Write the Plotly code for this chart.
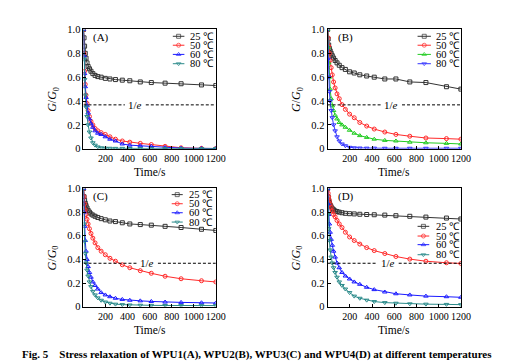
import plotly.graph_objects as go
import math

# ---------------- data ----------------
time_s = [0, 5, 10, 16, 23, 32, 42, 54, 68, 85, 105, 130, 160, 198, 240, 290,
          352, 420, 515, 615, 740, 885, 1070, 1200]

temps = ["25 ℃", "50 ℃", "60 ℃", "80 ℃"]

# WPU1 (A)
A_25 = [1.0, 0.93, 0.86, 0.8, 0.76, 0.72, 0.69, 0.67, 0.65, 0.63, 0.615, 0.605, 0.6, 0.59,
        0.585, 0.58, 0.575, 0.57, 0.56, 0.555, 0.55, 0.545, 0.535, 0.53]
A_50 = [1.0, 0.8, 0.65, 0.54, 0.45, 0.38, 0.32, 0.27, 0.23, 0.2, 0.17, 0.15, 0.135, 0.12,
        0.1, 0.08, 0.065, 0.055, 0.045, 0.035, 0.02, 0.008, 0.003, 0.002]
A_60 = [1.0, 0.78, 0.63, 0.52, 0.43, 0.36, 0.3, 0.25, 0.21, 0.18, 0.15, 0.13, 0.12, 0.1,
        0.08, 0.065, 0.04, 0.03, 0.025, 0.02, 0.01, 0.005, 0.003, 0.002]
A_80 = [1.0, 0.75, 0.58, 0.45, 0.35, 0.27, 0.2, 0.14, 0.09, 0.05, 0.03, 0.015, 0.008, 0.005,
        0.004, 0.003, 0.003, 0.002, 0.002, 0.002, 0.002, 0.002, 0.002, 0.002]

# WPU2 (B)
B_25 = [1.0, 0.92, 0.87, 0.84, 0.82, 0.8, 0.78, 0.76, 0.74, 0.72, 0.7, 0.68, 0.665, 0.645,
        0.635, 0.62, 0.61, 0.6, 0.585, 0.585, 0.56, 0.555, 0.52, 0.5]
B_50 = [1.0, 0.93, 0.86, 0.8, 0.74, 0.68, 0.62, 0.56, 0.51, 0.46, 0.42, 0.37, 0.33, 0.29,
        0.26, 0.22, 0.19, 0.165, 0.14, 0.12, 0.105, 0.09, 0.085, 0.08]
B_60 = [1.0, 0.85, 0.72, 0.6, 0.5, 0.42, 0.36, 0.32, 0.28, 0.25, 0.22, 0.2, 0.18, 0.155,
        0.13, 0.11, 0.095, 0.08, 0.07, 0.065, 0.055, 0.05, 0.045, 0.04]
B_80 = [1.0, 0.75, 0.6, 0.48, 0.4, 0.32, 0.26, 0.2, 0.15, 0.1, 0.065, 0.04, 0.025, 0.012,
        0.008, 0.006, 0.005, 0.005, 0.004, 0.004, 0.004, 0.004, 0.004, 0.004]

# WPU3 (C)
C_25 = [1.0, 0.93, 0.9, 0.875, 0.855, 0.835, 0.815, 0.8, 0.785, 0.775, 0.765, 0.755, 0.745,
        0.735, 0.725, 0.72, 0.71, 0.7, 0.695, 0.69, 0.68, 0.67, 0.655, 0.645]
C_50 = [1.0, 0.93, 0.87, 0.82, 0.78, 0.74, 0.7, 0.66, 0.62, 0.58, 0.54, 0.5, 0.47, 0.44,
        0.41, 0.385, 0.355, 0.33, 0.305, 0.283, 0.258, 0.237, 0.22, 0.21]
C_60 = [1.0, 0.8, 0.68, 0.56, 0.47, 0.4, 0.34, 0.29, 0.25, 0.21, 0.18, 0.15, 0.12, 0.1,
        0.085, 0.072, 0.062, 0.055, 0.05, 0.045, 0.04, 0.037, 0.034, 0.032]
C_80 = [1.0, 0.7, 0.55, 0.45, 0.37, 0.31, 0.26, 0.21, 0.17, 0.13, 0.1, 0.075, 0.055, 0.04,
        0.03, 0.022, 0.018, 0.015, 0.013, 0.012, 0.011, 0.01, 0.01, 0.01]

# WPU4 (D)
D_25 = [1.0, 0.93, 0.9, 0.88, 0.86, 0.845, 0.83, 0.82, 0.81, 0.805, 0.8, 0.795, 0.79, 0.787,
        0.785, 0.782, 0.78, 0.778, 0.775, 0.77, 0.765, 0.758, 0.75, 0.742]
D_50 = [1.0, 0.96, 0.93, 0.9, 0.87, 0.84, 0.81, 0.78, 0.76, 0.73, 0.7, 0.67, 0.63, 0.59,
        0.56, 0.53, 0.5, 0.475, 0.45, 0.425, 0.403, 0.385, 0.372, 0.366]
D_60 = [1.0, 0.87, 0.78, 0.7, 0.63, 0.57, 0.52, 0.47, 0.42, 0.37, 0.33, 0.29, 0.26, 0.235,
        0.21, 0.19, 0.165, 0.145, 0.125, 0.11, 0.1, 0.09, 0.085, 0.08]
D_80 = [1.0, 0.78, 0.66, 0.56, 0.48, 0.42, 0.37, 0.33, 0.29, 0.25, 0.21, 0.18, 0.15, 0.12,
        0.09, 0.072, 0.056, 0.044, 0.035, 0.03, 0.025, 0.022, 0.02, 0.018]

panel_labels = ["(A)", "(B)", "(C)", "(D)"]
panel_series = [[A_25, A_50, A_60, A_80], [B_25, B_50, B_60, B_80],
                [C_25, C_50, C_60, C_80], [D_25, D_50, D_60, D_80]]

x_ticks = [200, 400, 600, 800, 1000, 1200]
y_ticks = [0, 0.2, 0.4, 0.6, 0.8, 1.0]
y_ticktext = ["0", "0.2", "0.4", "0.6", "0.8", "1.0"]
inv_e = 1 / math.e

caption = "Fig. 5    Stress relaxation of WPU1(A), WPU2(B), WPU3(C) and WPU4(D) at different temperatures"

# ---------------- styles ----------------
W, H = 508, 361
FONT = "Liberation Serif, Times New Roman, serif"
symbols = ["square-open", "circle-open", "triangle-up-open", "triangle-down-open"]
panel_colors = [
    ["#333333", "#ff2a2a", "#1a1aff", "#2a8a8a"],
    ["#333333", "#ff2a2a", "#22cc22", "#3333ff"],
    ["#333333", "#ff2a2a", "#1a1aff", "#2a8a8a"],
    ["#333333", "#ff2a2a", "#1a1aff", "#2a8a8a"],
]
# plot boxes in pixels (left, right, top, bottom)
boxes = [(77, 212, 17, 140), (326, 462, 17, 140), (77, 212, 181, 303), (326, 462, 181, 303)]
# legend layout: (line start x, line end x, text x) as data x; row y's as data y
legend_pos = [
    (810, 915, 945, [0.943, 0.868, 0.791, 0.713]),
    (810, 930, 960, [0.943, 0.868, 0.791, 0.713]),
    (800, 900, 935, [0.948, 0.871, 0.795, 0.716]),
    (810, 915, 960, [0.68, 0.598, 0.525, 0.44]),
]
e_label_x = [470, 575, 580, 545]
E_GAP = 95
MS = 4

fig = go.Figure()
layout = dict(
    width=W, height=H, margin=dict(l=0, r=0, t=0, b=0),
    paper_bgcolor="white", plot_bgcolor="white", showlegend=False,
    font=dict(family=FONT, size=10, color="black"),
)
annotations = []
shapes = []

for p in range(4):
    l, r, t, b = boxes[p]
    sfx = "" if p == 0 else str(p + 1)
    xa, ya = "x" + sfx, "y" + sfx
    layout["xaxis" + sfx] = dict(
        domain=[l / W, r / W], anchor=ya, range=[0, 1200], tickvals=x_ticks,
        ticks="inside", ticklen=3, tickwidth=1, tickcolor="black", tickangle=0,
        showline=True, linecolor="black", linewidth=1, mirror=True,
        showgrid=False, zeroline=False, tickfont=dict(size=10, family=FONT),
    )
    layout["yaxis" + sfx] = dict(
        domain=[1 - b / H, 1 - t / H], anchor=xa, range=[0, 1.0], tickvals=y_ticks,
        ticktext=y_ticktext, ticks="inside", ticklen=3, tickwidth=1, tickcolor="black",
        showline=True, linecolor="black", linewidth=1, mirror=True,
        showgrid=False, zeroline=False, tickfont=dict(size=10.5, family=FONT),
    )
    for i, ys in enumerate(panel_series[p]):
        c = panel_colors[p][i]
        fig.add_trace(go.Scatter(
            x=time_s, y=ys, mode="lines+markers", xaxis=xa, yaxis=ya,
            line=dict(color=c, width=1),
            marker=dict(symbol=symbols[i], size=MS, color=c, line=dict(width=1, color=c)),
            name=temps[i],
        ))
    # legend
    lx0, lx1, tx, rows = legend_pos[p]
    for i in range(4):
        c = panel_colors[p][i]
        fig.add_trace(go.Scatter(
            x=[lx0, (lx0 + lx1) / 2, lx1], y=[rows[i]] * 3, mode="lines+markers",
            xaxis=xa, yaxis=ya, line=dict(color=c, width=1),
            marker=dict(symbol=symbols[i], size=[0, MS, 0], color=c, line=dict(width=1, color=c)),
            hoverinfo="skip",
        ))
        annotations.append(dict(x=tx, y=rows[i], xref=xa, yref=ya, text=temps[i],
                                showarrow=False, xanchor="left", yanchor="middle",
                                font=dict(size=10.5, family=FONT)))
    # 1/e line, broken around its label
    ex = e_label_x[p]
    for x0, x1 in ((0, ex - E_GAP), (ex + E_GAP, 1200)):
        shapes.append(dict(type="line", xref=xa, yref=ya, x0=x0, x1=x1, y0=inv_e, y1=inv_e,
                           line=dict(color="black", width=1, dash="3px,2px")))
    annotations.append(dict(x=ex, y=inv_e, xref=xa, yref=ya, text="1/<i>e</i>",
                            showarrow=False, font=dict(size=11, family=FONT)))
    # panel label
    annotations.append(dict(x=0.06, y=0.93, xref=xa + " domain", yref=ya + " domain",
                            text=panel_labels[p], showarrow=False, xanchor="left",
                            yanchor="middle", font=dict(size=11, family=FONT)))
    # axis titles
    annotations.append(dict(x=(l + r) / 2 / W, y=1 - (b + 24) / H, xref="paper", yref="paper",
                            text="Time/s", showarrow=False, xanchor="center", yanchor="middle",
                            font=dict(size=11.5, family=FONT)))
    annotations.append(dict(x=(l - 31) / W, y=1 - ((t + b) / 2 + 11) / H, xref="paper",
                            yref="paper", text="<i>G</i>/<i>G</i><sub>0</sub>", textangle=-90,
                            showarrow=False, xanchor="center", yanchor="middle",
                            font=dict(size=12, family=FONT)))

annotations.append(dict(x=0.5, y=1 - 352 / H, xref="paper", yref="paper",
                        text="<b>" + caption + "</b>", showarrow=False, xanchor="center",
                        yanchor="middle", font=dict(size=11, family=FONT)))

layout["annotations"] = annotations
layout["shapes"] = shapes
fig.update_layout(**layout)
fig.write_html("out.html")
